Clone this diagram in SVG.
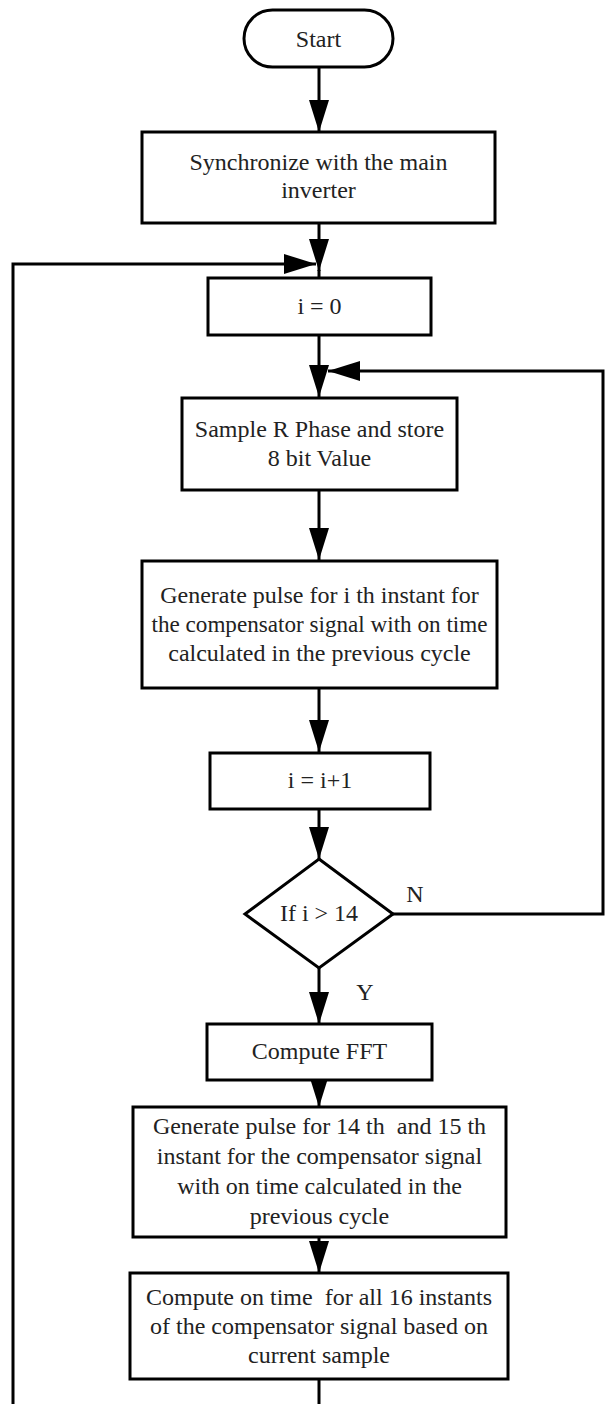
<svg xmlns="http://www.w3.org/2000/svg" width="605" height="1404" viewBox="0 0 605 1404">
<style>
.box{fill:#fff;stroke:#000;stroke-width:3}
.t{font-family:"Liberation Serif","Times New Roman",serif;font-size:24px;fill:#222;text-anchor:middle;white-space:pre}
.c{fill:none;stroke:#000;stroke-width:3}
</style>
<defs>
<marker id="ah" viewBox="0 0 32 20" refX="32" refY="10" markerWidth="32" markerHeight="20" markerUnits="userSpaceOnUse" orient="auto">
<path d="M0,0 L32,10 L0,20 z" fill="#000"/>
</marker>
</defs>
<rect width="605" height="1404" fill="#fff"/>
<g id="connectors">
<path class="c" d="M319,67 V132" marker-end="url(#ah)"/>
<path class="c" d="M319,223 V271" marker-end="url(#ah)"/>
<path class="c" d="M319,270 V278"/>
<path class="c" d="M13,1404 V264 H316" marker-end="url(#ah)"/>
<path class="c" d="M319,335 V397" marker-end="url(#ah)"/>
<path class="c" d="M393,914 H603 V371 H328" marker-end="url(#ah)"/>
<path class="c" d="M319,490 V560" marker-end="url(#ah)"/>
<path class="c" d="M319,688 V752" marker-end="url(#ah)"/>
<path class="c" d="M319,809 V859" marker-end="url(#ah)"/>
<path class="c" d="M319,968 V1024" marker-end="url(#ah)"/>
<path class="c" d="M319,1076 V1107" marker-end="url(#ah)"/>
<path class="c" d="M319,1237 V1273" marker-end="url(#ah)"/>
<path class="c" d="M319,1379 V1404"/>
<text class="t" x="415" y="902">N</text>
<text class="t" x="365" y="1000">Y</text>
</g>
<g id="start">
<rect class="box" x="244" y="10" width="149" height="57" rx="28.5"/>
<text class="t" x="318.5" y="47">Start</text>
</g>
<g id="sync">
<rect class="box" x="142" y="132" width="353" height="91"/>
<text class="t" x="318.5" y="170">Synchronize with the main</text>
<text class="t" x="318.5" y="198">inverter</text>
</g>
<g id="init">
<rect class="box" x="208" y="278" width="223" height="57"/>
<text class="t" x="319.5" y="314">i = 0</text>
</g>
<g id="sample">
<rect class="box" x="182" y="398" width="275" height="92"/>
<text class="t" x="319.5" y="437">Sample R Phase and store</text>
<text class="t" x="319.5" y="466">8 bit Value</text>
</g>
<g id="pulse">
<rect class="box" x="142" y="561" width="355" height="127"/>
<text class="t" x="319.5" y="603">Generate pulse for i th instant for</text>
<text class="t" x="319.5" y="632" textLength="336" lengthAdjust="spacingAndGlyphs">the compensator signal with on time</text>
<text class="t" x="319.5" y="661">calculated in the previous cycle</text>
</g>
<g id="incr">
<rect class="box" x="210" y="753" width="220" height="56"/>
<text class="t" x="320" y="788">i = i+1</text>
</g>
<g id="decision">
<polygon class="box" points="319,859 393,914 319,968 245,914"/>
<text class="t" x="319" y="921">If i &gt; 14</text>
</g>
<g id="fft">
<rect class="box" x="207" y="1024" width="225" height="56"/>
<text class="t" x="319.5" y="1059">Compute FFT</text>
</g>
<g id="pulse2">
<rect class="box" x="133" y="1107" width="373" height="130"/>
<text class="t" x="319.5" y="1134">Generate pulse for 14 th  and 15 th</text>
<text class="t" x="319.5" y="1164">instant for the compensator signal</text>
<text class="t" x="319.5" y="1194">with on time calculated in the</text>
<text class="t" x="319.5" y="1224">previous cycle</text>
</g>
<g id="ontime">
<rect class="box" x="130" y="1273" width="378" height="106"/>
<text class="t" x="319" y="1305">Compute on time  for all 16 instants</text>
<text class="t" x="319" y="1334">of the compensator signal based on</text>
<text class="t" x="319" y="1363">current sample</text>
</g>
</svg>
